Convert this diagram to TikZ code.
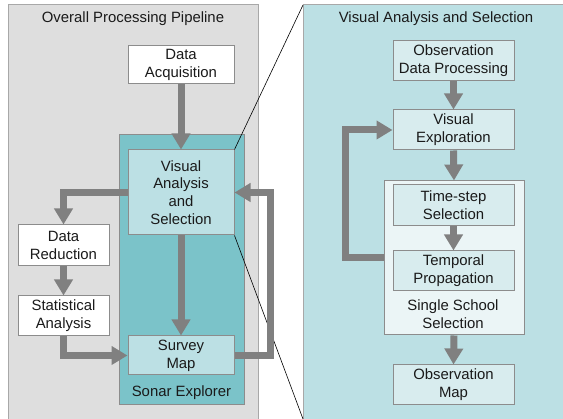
\documentclass[tikz,border=0pt]{standalone}
\usepackage{fontspec}
\setmainfont{Liberation Sans}
\usetikzlibrary{arrows.meta}
\definecolor{panelgray}{HTML}{DEDEDE}
\definecolor{panelborder}{HTML}{A8A8A8}
\definecolor{sonarteal}{HTML}{7BC3C9}
\definecolor{lightteal}{HTML}{BCE0E4}
\definecolor{innerteal}{HTML}{D8ECEE}
\definecolor{palteal}{HTML}{EBF5F6}
\definecolor{boxborder}{HTML}{8C8C8C}
\definecolor{arrowgray}{HTML}{808080}
\definecolor{txt}{HTML}{1A1A1A}
\tikzset{
  lbl/.style={text=txt, font=\fontsize{14.9}{17.8}\selectfont, align=center, inner sep=0pt},
  wbox/.style={lbl, draw=boxborder, line width=1pt, fill=white},
  vbox/.style={lbl, draw=boxborder, line width=1pt, fill=lightteal},
  ibox/.style={lbl, draw=boxborder, line width=1pt, fill=innerteal},
  flow/.style={draw=arrowgray, line width=7pt, -{Triangle[length=16pt,width=18pt]}},
  zoomline/.style={draw=black, line width=0.6pt}
}
\begin{document}
\begin{tikzpicture}[x=1pt,y=-1pt]
\useasboundingbox (0,0) rectangle (563,419);
\clip (0,0) rectangle (563,419);
% panels
\draw[fill=panelgray, draw=panelborder, line width=1pt] (8,5) rectangle (258,440);
\draw[fill=lightteal, draw=panelborder, line width=1pt] (303,5) rectangle (580,440);
\node[lbl] (t1) at (133,19) {Overall Processing Pipeline};
\node[lbl] (t2) at (436,19) {Visual Analysis and Selection};
% left side
\node[lbl, draw=boxborder, line width=1pt, fill=sonarteal, minimum width=125pt, minimum height=270pt] (se) at (181.5,270) {};
\node[lbl] (sel) at (181.5,393) {Sonar Explorer};
\node[wbox, minimum width=106pt, minimum height=38pt] (da) at (181,65) {Data\\Acquisition};
\node[vbox, minimum width=106pt, minimum height=85pt] (va) at (181,192.5) {Visual\\Analysis\\and\\Selection};
\node[vbox, minimum width=106pt, minimum height=39pt] (sm) at (181,355.5) {Survey\\Map};
\node[wbox, minimum width=91pt, minimum height=41pt] (dr) at (63.5,245.5) {Data\\Reduction};
\node[wbox, minimum width=91pt, minimum height=40pt] (sa) at (63.5,316) {Statistical\\Analysis};
\coordinate (rx) at (270,0);
% right side
\node[ibox, minimum width=121pt, minimum height=40pt] (odp) at (453.5,61) {Observation\\Data Processing};
\node[ibox, minimum width=121pt, minimum height=40pt] (ve) at (453.5,130) {Visual\\Exploration};
\node[lbl, draw=boxborder, line width=1pt, fill=palteal, minimum width=140pt, minimum height=154pt] (sss) at (454,258) {};
\node[lbl] (sssl) at (453,314) {Single School\\Selection};
\node[ibox, minimum width=121pt, minimum height=41pt] (ts) at (453.5,205.5) {Time-step\\Selection};
\node[ibox, minimum width=121pt, minimum height=40pt] (tp) at (453.5,271) {Temporal\\Propagation};
\node[ibox, minimum width=121pt, minimum height=40pt] (om) at (453.5,385) {Observation\\Map};
\coordinate (lx) at (345,0);
% zoom lines
\coordinate (zt) at (303,5);
\coordinate (zb) at (303,419);
\draw[zoomline] (va.north east) -- (zt);
\draw[zoomline] (va.south east) -- (zb);
% arrows left
\draw[flow] (da.south) -- (va.north);
\draw[flow] (va.south) -- (sm.north);
\draw[flow] (va.west) -| (dr.north);
\draw[flow] (dr.south) -- (sa.north);
\draw[flow] (sa.south) |- (sm.west);
\draw[flow] (sm.east) -- (sm.east -| rx) |- (va.east);
% arrows right
\draw[flow] (odp.south) -- (ve.north);
\draw[flow] (ve.south) -- (sss.north);
\draw[flow] (ts.south) -- (tp.north);
\draw[flow] (sss.south) -- (om.north);
\draw[flow] (sss.west) -- (sss.west -| lx) |- (ve.west);
\end{tikzpicture}
\end{document}
